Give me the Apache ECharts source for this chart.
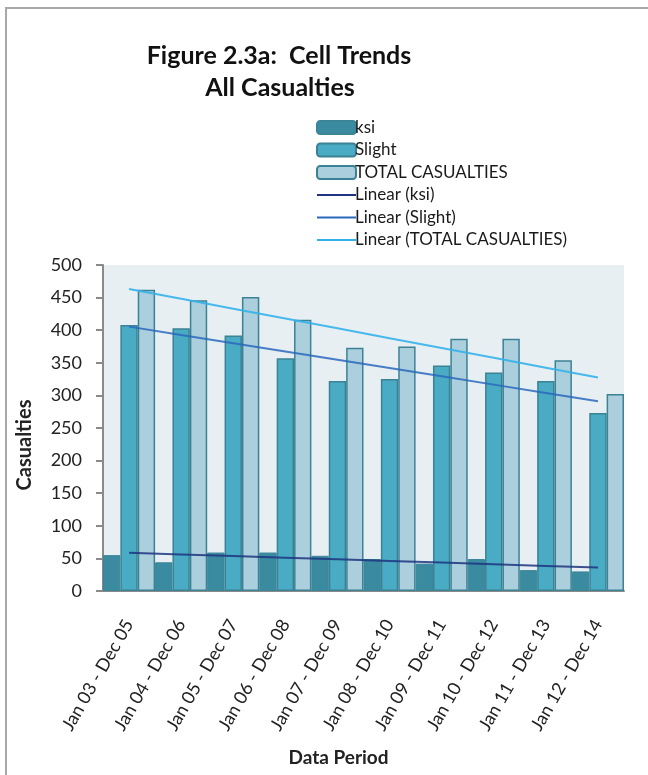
<!DOCTYPE html>
<html>
<head>
<meta charset="utf-8">
<script src="https://cdn.jsdelivr.net/npm/echarts@6/dist/echarts.min.js"></script>
<style>
  html, body { margin: 0; padding: 0; background: #ffffff; }
  #chart { width: 648px; height: 775px; }
</style>
</head>
<body>
<div id="chart"></div>
<script>
// Rolling three-year periods
var periods = ['Jan 03 - Dec 05', 'Jan 04 - Dec 06', 'Jan 05 - Dec 07', 'Jan 06 - Dec 08',
  'Jan 07 - Dec 09', 'Jan 08 - Dec 10', 'Jan 09 - Dec 11', 'Jan 10 - Dec 12',
  'Jan 11 - Dec 13', 'Jan 12 - Dec 14'];

// Casualty counts per period
var ksi = [55, 44, 59, 59, 54, 49, 42, 49, 32, 30];
var slight = [408, 403, 392, 357, 322, 325, 346, 335, 322, 273];
var total = [462, 446, 451, 416, 373, 375, 387, 387, 354, 302];

// Y axis range
var yMin = 0, yMax = 500, yStep = 50;

// Least-squares linear trend over the period index
function linearFit(values) {
  var n = values.length, sx = 0, sy = 0, sxy = 0, sxx = 0;
  for (var i = 0; i < n; i++) {
    sx += i; sy += values[i]; sxy += i * values[i]; sxx += i * i;
  }
  var slope = (n * sxy - sx * sy) / (n * sxx - sx * sx);
  var icpt = (sy - slope * sx) / n;
  return values.map(function (v, i) { return +(icpt + slope * i).toFixed(2); });
}

var FONT = 'Lato';
var LINE_ICON = 'path://M0,0 L40,0 L40,2 L0,2 Z';
var chart = echarts.init(document.getElementById('chart'), null, { renderer: 'canvas' });

var barEdge = '#3b8294';

chart.setOption({
  backgroundColor: '#ffffff',
  animation: false,
  textStyle: { fontFamily: FONT, color: '#222222' },
  title: [{
    text: 'Figure 2.3a:  Cell Trends',
    left: 274, top: 38, textAlign: 'center',
    textStyle: { fontFamily: FONT, fontWeight: 'bold', fontSize: 25, color: '#111111' }
  }, {
    text: 'All Casualties',
    left: 275, top: 70, textAlign: 'center',
    textStyle: { fontFamily: FONT, fontWeight: 'bold', fontSize: 25, color: '#111111' }
  }],
  legend: {
    orient: 'vertical',
    left: 311, top: 114,
    itemWidth: 39, itemHeight: 13, itemGap: 5.5,
    symbolKeepAspect: true,
    textStyle: { fontFamily: FONT, fontSize: 17, color: '#1a1a1a', padding: [0, 0, 0, -6] },
    data: [
      { name: 'ksi' },
      { name: 'Slight' },
      { name: 'TOTAL CASUALTIES' },
      { name: 'Linear (ksi)', icon: LINE_ICON },
      { name: 'Linear (Slight)', icon: LINE_ICON },
      { name: 'Linear (TOTAL CASUALTIES)', icon: LINE_ICON }
    ]
  },
  grid: {
    left: 103, right: 24, top: 265, bottom: 184,
    show: true, backgroundColor: '#e8eff3', borderWidth: 0
  },
  xAxis: {
    type: 'category',
    data: periods,
    name: 'Data Period',
    nameLocation: 'middle',
    nameGap: 157,
    nameTextStyle: { fontFamily: FONT, fontWeight: 'bold', fontSize: 19, color: '#222222', padding: [0, 50, 0, 0] },
    axisLine: { lineStyle: { color: '#8a8a8a', width: 2 } },
    axisTick: { show: false },
    axisLabel: { rotate: 60, margin: 30, fontFamily: FONT, fontSize: 18, color: '#222222', interval: 0 }
  },
  yAxis: {
    type: 'value',
    min: yMin, max: yMax, interval: yStep,
    name: 'Casualties',
    nameLocation: 'middle',
    nameGap: 68,
    nameTextStyle: { fontFamily: FONT, fontWeight: 'bold', fontSize: 20, color: '#222222', padding: [0, 34, 0, 0] },
    axisLine: { show: true, lineStyle: { color: '#8a8a8a', width: 2 } },
    axisTick: { show: true, length: 7, lineStyle: { color: '#8a8a8a', width: 2 } },
    splitLine: { show: false },
    axisLabel: { margin: 21, fontFamily: FONT, fontSize: 18, color: '#222222' }
  },
  series: [{
    name: 'ksi', type: 'bar', data: ksi,
    barGap: '0%', barCategoryGap: '0%',
    itemStyle: { color: '#3a8ba0', borderColor: '#3a8498', borderWidth: 1 }
  }, {
    name: 'Slight', type: 'bar', data: slight,
    itemStyle: { color: '#4aabc5', borderColor: barEdge, borderWidth: 1.5 }
  }, {
    name: 'TOTAL CASUALTIES', type: 'bar', data: total,
    itemStyle: { color: '#abcfdd', borderColor: barEdge, borderWidth: 1.5 }
  }, {
    name: 'Linear (ksi)', type: 'line', data: linearFit(ksi),
    symbol: 'none', z: 5,
    lineStyle: { color: '#1d3580', width: 2, opacity: 0.85 },
    itemStyle: { color: '#1d3580' }
  }, {
    name: 'Linear (Slight)', type: 'line', data: linearFit(slight),
    symbol: 'none', z: 5,
    lineStyle: { color: '#2a68bd', width: 2, opacity: 0.85 },
    itemStyle: { color: '#2a68bd' }
  }, {
    name: 'Linear (TOTAL CASUALTIES)', type: 'line', data: linearFit(total),
    symbol: 'none', z: 5,
    lineStyle: { color: '#35b1ea', width: 2, opacity: 0.9 },
    itemStyle: { color: '#35b1ea' }
  }],
  graphic: [{
    type: 'rect',
    shape: { x: 6, y: 8, width: 700, height: 800 },
    style: { fill: 'none', stroke: '#a8a8a8', lineWidth: 2 },
    silent: true
  }]
});
</script>
</body>
</html>
